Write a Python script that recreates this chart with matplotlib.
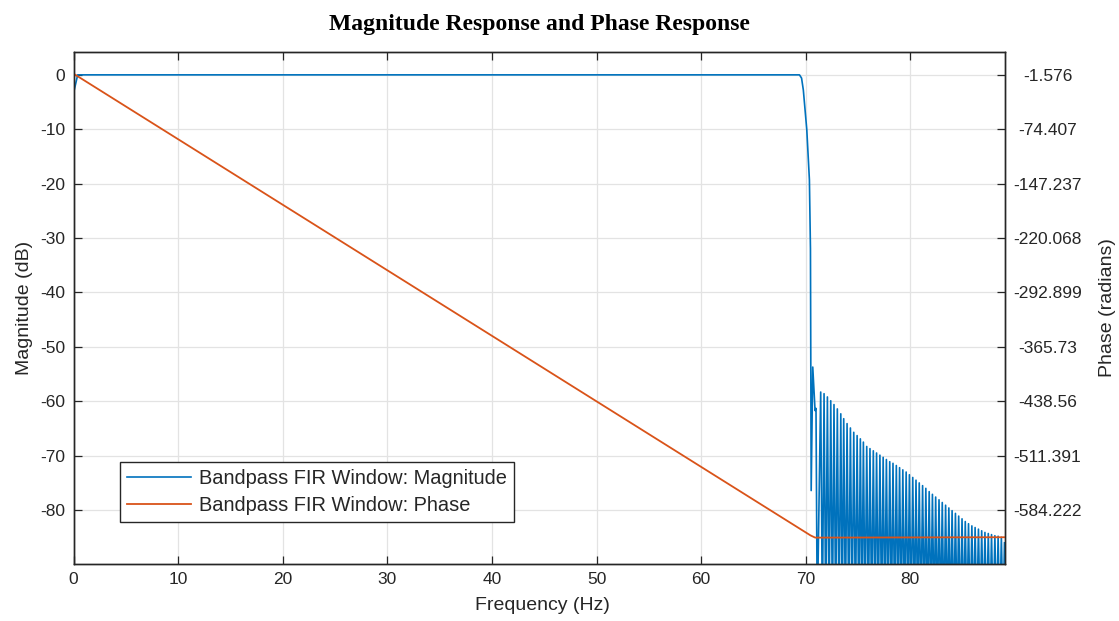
import numpy as np
import matplotlib
matplotlib.use("Agg")
import matplotlib.pyplot as plt

plt.rcParams['font.family'] = ['Liberation Sans', 'DejaVu Sans']
plt.rcParams['axes.unicode_minus'] = False

# magnitude: passband, transition edge
edge_hz = [0, 0.4, 69.4, 69.6, 69.77, 69.93, 70.1, 70.25, 70.35, 70.45, 70.52,
           70.67, 70.89, 70.98, 71.1]
edge_db = [-3.4, 0, 0, -0.6, -2.8, -6.4, -10.1, -15.7, -19.3, -32, -76.4,
           -53.7, -61.7, -61.3, -100]

# stopband sidelobes (peak, then the null after it)
lobe_hz = [71.43, 71.75, 72.07, 72.39, 72.70, 73.02, 73.35, 73.63, 73.95, 74.27,
           74.59, 74.91, 75.22, 75.51, 75.83, 76.14, 76.46, 76.77, 77.09, 77.40,
           77.71, 78.03, 78.34, 78.66, 78.97, 79.28, 79.60, 79.91, 80.23, 80.54,
           80.85, 81.17, 81.48, 81.80, 82.11, 82.42, 82.74, 83.05, 83.37, 83.68,
           83.99, 84.31, 84.62, 84.94, 85.25, 85.56, 85.88, 86.19, 86.51, 86.82,
           87.13, 87.45, 87.76, 88.08, 88.39, 88.70]
lobe_db = [-58.3, -58.6, -59.2, -59.9, -60.6, -61.4, -62.3, -63.2, -64.1, -64.9,
           -65.7, -66.3, -66.9, -67.5, -68.3, -68.7, -69.1, -69.5, -69.9, -70.3,
           -70.7, -71.1, -71.4, -71.8, -72.2, -72.6, -73.0, -73.5, -74.0, -74.5,
           -75.0, -75.5, -76.0, -76.6, -77.1, -77.6, -78.1, -78.6, -79.1, -79.6,
           -80.1, -80.6, -81.1, -81.6, -82.1, -82.5, -82.9, -83.2, -83.5, -83.8,
           -84.1, -84.3, -84.5, -84.7, -84.8, -85.0]
null_hz = [71.59, 71.91, 72.23, 72.55, 72.86, 73.18, 73.49, 73.79, 74.11, 74.43,
           74.75, 75.07, 75.37, 75.67, 75.99, 76.30, 76.62, 76.93, 77.25, 77.56,
           77.87, 78.19, 78.50, 78.82, 79.13, 79.44, 79.76, 80.07, 80.39, 80.70,
           81.01, 81.33, 81.64, 81.96, 82.27, 82.58, 82.90, 83.21, 83.53, 83.84,
           84.15, 84.47, 84.78, 85.10, 85.41, 85.72, 86.04, 86.35, 86.67, 86.98,
           87.29, 87.61, 87.92, 88.24, 88.55, 88.86]
null_db = -100
end_hz, end_db = 89.0, -86.0

# phase
phase_hz = [0, 70.45, 70.9, 89.0]
phase_rad = [0, -618.0, -621.0, -620.5]

mag_ticks = [0, -10, -20, -30, -40, -50, -60, -70, -80]
phase_labels = ['-1.576', '-74.407', '-147.237', '-220.068', '-292.899',
                '-365.73', '-438.56', '-511.391', '-584.222']
phase_ticks = [float(s) for s in phase_labels]

f_mag = list(edge_hz)
m_mag = list(edge_db)
for fh, fd, nh in zip(lobe_hz, lobe_db, null_hz):
    f_mag += [fh, nh]
    m_mag += [fd, null_db]
f_mag.append(end_hz)
m_mag.append(end_db)

blue = '#0072BD'
orange = '#D95319'
dark = '#262626'

fig = plt.figure(figsize=(11.19, 6.21), dpi=100)
ax = fig.add_axes([73.5 / 1119, 1 - 564 / 621, 931 / 1119, 512 / 621])
ax2 = ax.twinx()

ylo, yhi = -89.9, 4.2
ax.set_xlim(0, 89)
ax.set_ylim(ylo, yhi)
# right axis ticks line up with the left ones
k = (phase_ticks[-1] - phase_ticks[0]) / (mag_ticks[-1] - mag_ticks[0])
ax2.set_ylim(phase_ticks[0] + k * ylo, phase_ticks[0] + k * yhi)

l1, = ax.plot(f_mag, m_mag, color=blue, lw=1.2, label='Bandpass FIR Window: Magnitude')
l2, = ax2.plot(phase_hz, phase_rad, color=orange, lw=1.3, label='Bandpass FIR Window: Phase')

ax.set_xticks(np.arange(0, 90, 10))
ax.set_yticks(mag_ticks)
ax2.set_yticks(phase_ticks)
ax2.set_yticklabels(phase_labels)

ax.grid(True, color='#e3e3e3', lw=0.9)
ax.set_axisbelow(True)

ax.tick_params(direction='in', length=6, width=0.9, colors=dark, labelsize=12.5,
               top=True, pad=6)
ax2.tick_params(direction='in', length=6, width=0.9, colors=dark, labelsize=12.5,
                pad=31)
for t in ax2.get_yticklabels():
    t.set_horizontalalignment('center')

for a in (ax, ax2):
    for s in a.spines.values():
        s.set_color(dark)
        s.set_linewidth(1.0)

ax.set_xlabel('Frequency (Hz)', fontsize=14, color=dark)
ax.xaxis.set_label_coords(0.504, -0.064)
ax.set_ylabel('Magnitude (dB)', fontsize=14, color=dark)
ax.yaxis.set_label_coords(-0.044, 0.5)
ax2.set_ylabel('Phase (radians)', fontsize=14, color=dark, rotation=90)
ax2.yaxis.set_label_coords(1.101, 0.5)

ax.set_title('Magnitude Response and Phase Response', fontsize=17,
             fontweight='bold', family='Liberation Serif', pad=16)

leg = ax2.legend(handles=[l1, l2], loc='lower left', bbox_to_anchor=(0.05, 0.082),
                 fontsize=14.4, frameon=True, fancybox=False, framealpha=1,
                 handlelength=3.2, handletextpad=0.4, borderpad=0.35,
                 labelspacing=0.4, borderaxespad=0)
leg.get_frame().set_edgecolor(dark)
leg.get_frame().set_linewidth(1.0)
for t in leg.get_texts():
    t.set_color(dark)

fig.savefig('out.png', dpi=100)
